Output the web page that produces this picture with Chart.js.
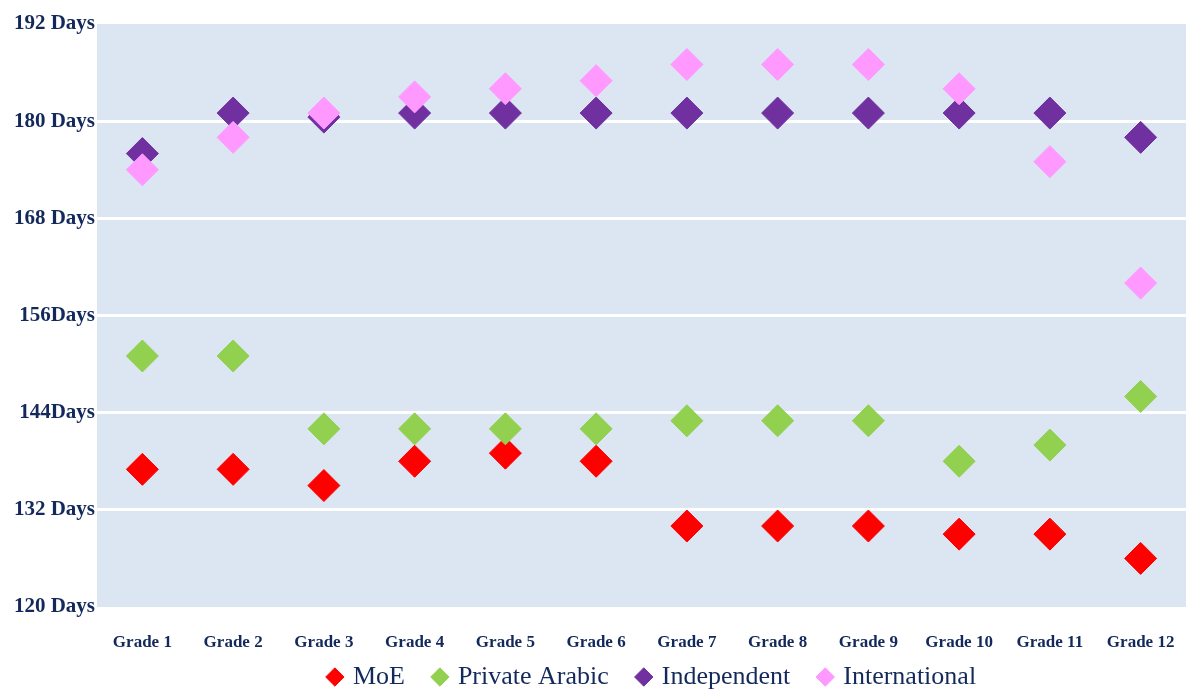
<!DOCTYPE html>
<html>
<head>
<meta charset="utf-8">
<script src="https://cdn.jsdelivr.net/npm/chart.js@4"></script>
<style>
  html, body { margin: 0; padding: 0; background: #fff; overflow: hidden; }
  canvas { display: block; }
</style>
</head>
<body>
<canvas id="daysChart" width="1186" height="689"></canvas>
<script>
const grades = ['Grade 1', 'Grade 2', 'Grade 3', 'Grade 4', 'Grade 5', 'Grade 6', 'Grade 7', 'Grade 8', 'Grade 9', 'Grade 10', 'Grade 11', 'Grade 12'];
const moe = [137, 137, 135, 138, 139, 138, 130, 130, 130, 129, 129, 126];
const privateArabic = [151, 151, 142, 142, 142, 142, 143, 143, 143, 138, 140, 146];
const independent = [176, 181, 180.5, 181, 181, 181, 181, 181, 181, 181, 181, 178];
const international = [174, 178, 181, 183, 184, 185, 187, 187, 187, 184, 175, 160];
const yTicks = [120, 132, 144, 156, 168, 180, 192];
const yTickLabels = ['120 Days', '132 Days', '144Days', '156Days', '168 Days', '180 Days', '192 Days'];

const navy = '#13295b';
const serif = '"Liberation Serif", "Times New Roman", serif';

// light blue plot area behind the points
const plotBackground = {
    id: 'plotBackground',
    beforeDraw(chart) {
        const { ctx, chartArea } = chart;
        ctx.save();
        ctx.fillStyle = '#dce6f2';
        ctx.fillRect(chartArea.left, chartArea.top, chartArea.right - chartArea.left, chartArea.bottom - chartArea.top);
        ctx.restore();
    },
};

// legend in the original sits right of the canvas middle, close under the labels
const nudgeLegend = {
    id: 'nudgeLegend',
    afterLayout(chart) {
        const lg = chart.legend;
        lg.left += 60;
        lg.right += 60;
        lg.top -= 20;
    },
};

function series(label, data, color, order) {
    return {
        label,
        data,
        order,
        showLine: false,
        pointStyle: 'rectRot',
        pointRadius: 16,
        pointHoverRadius: 16,
        borderWidth: 1,
        backgroundColor: color,
        borderColor: color,
    };
}

new Chart(document.getElementById('daysChart'), {
    type: 'line',
    data: {
        labels: grades,
        datasets: [
            series('MoE', moe, '#ff0000', 4),
            series('Private Arabic', privateArabic, '#92d050', 3),
            series('Independent', independent, '#7030a0', 2),
            series('International', international, '#ff99ff', 1),
        ],
    },
    options: {
        responsive: false,
        animation: false,
        layout: {
            autoPadding: false,
            padding: { top: 24, right: 0, bottom: 0, left: 0 },
        },
        scales: {
            x: {
                offset: true,
                // invisible tick marks push the labels down without adding side padding
                grid: {
                    display: true,
                    drawOnChartArea: false,
                    drawTicks: true,
                    tickLength: 25,
                    color: 'rgba(0,0,0,0)',
                    tickColor: 'rgba(0,0,0,0)',
                },
                border: { display: false },
                ticks: {
                    padding: 0,
                    color: navy,
                    autoSkip: false,
                    maxRotation: 0,
                    font: { family: serif, size: 17, weight: 'bold' },
                },
                afterFit(scale) {
                    scale.height = 47;
                    scale.paddingRight = 0;
                },
            },
            y: {
                min: 120,
                max: 192,
                afterBuildTicks(scale) {
                    scale.ticks = yTicks.map((v) => ({ value: v }));
                },
                grid: {
                    drawTicks: false,
                    lineWidth: 3,
                    color: (c) => (c.tick && (c.tick.value === 120 || c.tick.value === 192) ? 'rgba(0,0,0,0)' : '#ffffff'),
                },
                border: { display: false },
                ticks: {
                    padding: 2,
                    color: navy,
                    font: { family: serif, size: 21, weight: 'bold' },
                    callback: (value) => yTickLabels[yTicks.indexOf(value)],
                },
                afterFit(scale) {
                    scale.width = 97;
                },
            },
        },
        plugins: {
            legend: {
                position: 'bottom',
                maxHeight: 35,
                labels: {
                    usePointStyle: true,
                    pointStyle: 'rectRot',
                    boxWidth: 10,
                    boxHeight: 13,
                    padding: 30,
                    color: navy,
                    font: { family: serif, size: 26 },
                    sort: (a, b) => a.datasetIndex - b.datasetIndex,
                },
            },
            tooltip: { enabled: false },
        },
    },
    plugins: [plotBackground, nudgeLegend],
});
</script>
</body>
</html>
